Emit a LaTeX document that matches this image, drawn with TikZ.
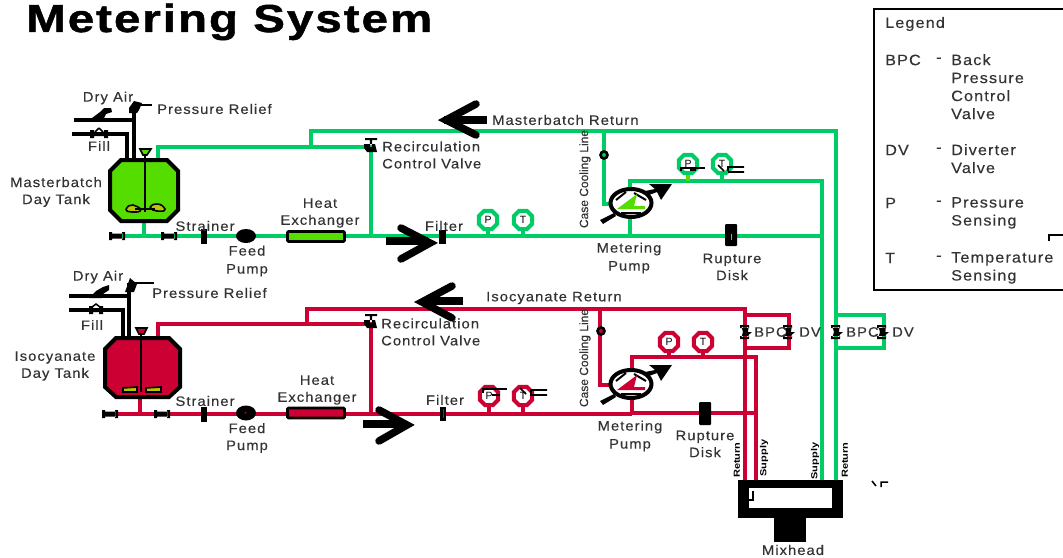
\documentclass[tikz,border=0pt]{standalone}
\usepackage{fontspec}
\usetikzlibrary{shapes.geometric}
\setmainfont{Liberation Sans}
\newfontfamily\labf[LetterSpace=7.5,FakeStretch=1.08,FakeBold=0.25]{Liberation Sans}
\newfontfamily\titf[LetterSpace=5,FakeStretch=1.22,FakeBold=1.2]{Liberation Sans Bold}
\newfontfamily\tinf[FakeBold=0.2]{Liberation Sans}
\definecolor{gpipe}{HTML}{00CC66}
\definecolor{rpipe}{HTML}{CC0033}
\definecolor{gfill}{HTML}{55DD00}
\definecolor{ytxt}{HTML}{333333}
\definecolor{imp}{HTML}{B8C800}
\tikzset{
  x=1pt,y=-1pt,
  lbl/.style={font=\labf\fontsize{13.7}{15}\selectfont,text=ytxt,inner sep=0pt,align=center},
  lbll/.style={lbl,anchor=west,align=left},
  lgt/.style={lbll,font=\labf\fontsize{15}{15}\selectfont},
  tiny/.style={font=\tinf\fontsize{12}{13}\selectfont,text=ytxt,inner sep=0pt,rotate=90},
  vtiny/.style={font=\fontsize{11}{12}\selectfont\bfseries,text=black,inner sep=0pt,rotate=90,xscale=1,yscale=.8},
  gp/.style={draw=gpipe,line width=3.4pt,line join=miter},
  rp/.style={draw=rpipe,line width=3.4pt,line join=miter},
  kp/.style={draw=black,line width=3.6pt},
  gauge/.style={regular polygon,regular polygon sides=8,fill=white,line width=4pt,minimum size=20pt,inner sep=0pt,font=\fontsize{10.5}{11}\selectfont,text=black},
  bigarrow/.style={draw=black,line width=7.5pt,line cap=round,line join=miter},
  blk/.style={fill=black,draw=none,inner sep=0pt},
  tankk/.style={draw=black,line width=4pt,line join=miter},
  hx/.style={draw=black,line width=2.6pt,rounded corners=1pt,minimum width=57pt,minimum height=10pt,inner sep=0pt},
  pt/.style={coordinate},
}
% bowtie valve, horizontal
\newcommand\hvalve[2]{\node[pt] (#1) at (#2) {};
  \fill[black,shift={(#2)}] (-8,-4) rectangle (-5,4) (8,-4) rectangle (5,4) (-6,-2.5) rectangle (6,2.5);}
% vertical bowtie
\newcommand\vvalve[2]{\node[pt] (#1) at (#2) {};
  \fill[black,shift={(#2)}] (-5,-7) rectangle (4,-4) (-5,4) rectangle (4,7) (-3.5,-5)--(3.5,-5)--(3,0)--(7,0)--(3.5,3)--(3.5,5)--(-3.5,5)--(-2,0)--cycle;}
% recirculation valve
\newcommand\rvalve[2]{\node[pt] (#1) at (#2) {};
  \fill[black,shift={(#2)}] (-6,-9) rectangle (6,-7) (-1.2,-8) rectangle (1.2,0) (-7,-3)--(4,-3)--(6,5)--(-4,5)--(-7,1)--cycle;}
% metering pump
\newcommand\mpump[3]{\node[draw=black,fill=white,ellipse,line width=4pt,minimum width=41pt,minimum height=28pt,inner sep=0pt] (#1) at (#2) {};
  \begin{scope}[shift={(#2)}]
    \draw[white,line width=2pt] (-23,-8)--(-13,-18) (23,8)--(13,18);
    \draw[black,line width=2pt] (-15,-3)--(-5,-11) (-10,10) -- (10,10) (3,-10)--(15,-3);
    \fill[#3] (-14,6)--(6,-9)--(3,3)--(14,3)--(14,6)--cycle;
    \fill[black] (-31,17)--(-28,21)--(-15,13)--(-17,10)--cycle;
    \fill[black] (14,-12) -- (18,-8) -- (26,-11) -- (30,-3) -- (41,-19) -- (18,-19) -- (24,-14) -- cycle;
  \end{scope}}
\begin{document}
\begin{tikzpicture}
\useasboundingbox (0,0) rectangle (1063,557);
\fill[white] (0,0) rectangle (1063,557);

% Title
\node[anchor=west,inner sep=0pt,font=\titf\fontsize{39}{40}\selectfont,text=black] (title) at (26,22) {Metering System};

% Legend
\draw[black,line width=2.4pt] (1075,9) -- (874,9) -- (874,290) -- (1075,290);
\node[lgt] (lg0) at (885,24) {Legend};
\node[lgt] (lg1) at (885,60) {BPC};
\node[lgt] (lg1d) at (936,60) {-};
\node[lgt,anchor=north west] (lg1t) at (951,54) {Back\\[3pt]Pressure\\[3pt]Control\\[3pt]Valve};
\node[lgt] (lg2) at (885,150) {DV};
\node[lgt] (lg2d) at (936,150) {-};
\node[lgt,anchor=north west] (lg2t) at (951,144) {Diverter\\[3pt]Valve};
\node[lgt] (lg3) at (885,203) {P};
\node[lgt] (lg3d) at (936,203) {-};
\node[lgt,anchor=north west] (lg3t) at (951,197) {Pressure\\[3pt]Sensing};
\node[lgt] (lg4) at (885,258) {T};
\node[lgt] (lg4d) at (936,258) {-};
\node[lgt,anchor=north west] (lg4t) at (951,252) {Temperature\\[3pt]Sensing};
\draw[black,line width=1.8pt] (1049,241) -- (1049,235) -- (1063,235);

% ---------- MIXHEAD ----------
\node[draw=black,line width=0pt,fill=black,minimum width=104pt,minimum height=37pt,inner sep=0pt] (mix) at (790,498.5) {};
\fill[white] (749,488) rectangle (832,508);
\node[blk,minimum width=32pt,minimum height=25pt] (mixs) at (790,529) {};
\draw[black,line width=1.5pt] (749,500) -- (753,500) -- (753,491);
\node[lbl] (mixl) at (793,550) {Mixhead};
\draw[black,line width=1.5pt] (872,481) -- (876,486) (881,487) -- (881,482) -- (888,482);

% ---------- GREEN PIPING ----------
\foreach \n/\x/\y in {ga/144/222,gb/144/236,gc/117/236,gd/822/236,ge/371/236,gf/371/147,gg/158/147,gh/158/160,gi/311/147,gj/311/131,gk/836/131,gl/836/480,gm/822/480,gn/822/181,go/630/181,gp1/630/190,gq/630/236,gr/630/218,gs/604/131,gt/604/204,gu/612/204,gv/688/181,gw/722/181,gx/488/236,gy/523/236,gz/836/315,gaa/884/315,gab/884/348,gac/836/348}
  {\coordinate (\n) at (\x,\y);}
\draw[gp] (gc) -- (gd);
\draw[gp] (ga) -- (gb);
\draw[gp] (ge) -- (gf) -- (gg) -- (gh);
\draw[gp] (gi) -- (gj) -- (gk) -- (gl);
\draw[gp] (gm) -- (gn) -- (go) -- (gp1);
\draw[gp] (gq) -- (gr);
\draw[gp] (gs) -- (gt) -- (gu);
\draw[gp] (gz) -- (gaa) -- (gab) -- (gac);

% ---------- RED PIPING ----------
\foreach \n/\x/\y in {ra/140/398,rb/140/414,rc/110/414,rd/632/414,re/371/414,rf/371/324,rg/158/324,rh/158/336,ri/307/324,rj/307/309,rk/745/309,rl/745/480,rm/756/480,rn/756/357,ro/632/357,rp1/632/372,rq/632/396,rr/632/413,rs/755/413,rt/600/309,ru/600/385,rv/612/385,rw/669/357,rx/703/357,ry/489/414,rz/523/414,raa/745/315,rab/789/315,rac/789/348,rad/745/348}
  {\coordinate (\n) at (\x,\y);}
\draw[rp] (rc) -- (rd);
\draw[rp] (ra) -- (rb);
\draw[rp] (re) -- (rf) -- (rg) -- (rh);
\draw[rp] (ri) -- (rj) -- (rk) -- (rl);
\draw[rp] (rm) -- (rn) -- (ro) -- (rp1);
\draw[rp] (rq) -- (rr) -- (rs);
\draw[rp] (rt) -- (ru) -- (rv);
\draw[rp] (raa) -- (rab) -- (rac) -- (rad);

% ---------- MASTERBATCH TANK ----------
\draw[tankk,fill=gfill] (121,160) -- (167,160) -- (178,171) -- (178,210) -- (167,221) -- (121,221) -- (110,210) -- (110,171) -- cycle;
\node[pt] (mtank) at (144,190) {};
\draw[black,line width=1.5pt] (145,155) -- (145,212);
\fill[imp,draw=black,line width=1.6pt] (126,209) to[out=80,in=180] (133,205) to[out=0,in=160] (141,209) to[out=-90,in=0] (132,212) to[out=180,in=-90] (126,209);
\fill[imp,draw=black,line width=1.6pt] (150,207) to[out=60,in=180] (157,204) to[out=0,in=120] (165,209) to[out=-90,in=0] (157,211) to[out=180,in=-60] (150,207);
\draw[black,line width=2pt] (135,209) -- (155,209);
\draw[black,line width=1.6pt,fill=gfill] (140,149) -- (151,149) -- (147,155) -- (143,155) -- cycle;

% black lines
\foreach \n/\x/\y in {ka/74/120,kb/134/120,kc/134/159,kd/134/105,ke/152/105,kf/72/134,kg/127/134,kh/127/159}
  {\coordinate (\n) at (\x,\y);}
\draw[kp,line width=3.6pt] (ka) -- (kb);
\draw[kp,line width=3.6pt] (kb) -- (kc);
\draw[kp,line width=2.2pt] (kd) -- (ke);
\draw[kp] (kb) -- (kd);
\draw[kp,line width=3.6pt] (kf) -- (kg) -- (kh);
\fill[black] (92,118)--(100,112)--(104,108)--(111,108)--(112,112)--(106,114)--(104,118)--cycle;
\fill[black] (129,113)--(129,108)--(134,101)--(142,103)--(139,110)--(137,113)--cycle;
\fill[black] (90,130) rectangle (94,138) (104,130) rectangle (108,138) (94,132) rectangle (104,136);
\draw[black,line width=1.5pt] (99,128) -- (95,132) (99,128) -- (103,132);

% ---------- ISOCYANATE TANK ----------
\draw[tankk,fill=rpipe] (116,338) -- (169,338) -- (180,349) -- (180,387) -- (169,397) -- (116,397) -- (105,387) -- (105,349) -- cycle;
\node[pt] (itank) at (142,368) {};
\draw[black,line width=2.8pt] (141,333) -- (141,392);
\fill[imp,draw=black,line width=1.6pt] (123,388) -- (137,387) -- (137,392) -- (123,392) -- cycle;
\fill[imp,draw=black,line width=1.6pt] (146,388) -- (161,387) -- (161,392) -- (146,392) -- cycle;
\draw[black,line width=1.6pt,fill=rpipe] (136,328) -- (147,328) -- (144,334) -- (139,334) -- cycle;

\foreach \n/\x/\y in {la/69/296,lb/129/296,lc/129/337,ld/129/283,le/154/283,lf/69/310,lg/123/310,lh/123/337}
  {\coordinate (\n) at (\x,\y);}
\draw[kp,line width=3.6pt] (la) -- (lb) -- (lc);
\draw[kp] (lb) -- (ld);
\draw[kp,line width=2.2pt] (ld) -- (le);
\draw[kp,line width=3.6pt] (lf) -- (lg) -- (lh);
\fill[black] (89,298)--(96,291)--(103,287)--(109,285)--(109,290)--(103,294)--(102,298)--cycle;
\fill[black] (125,292)--(130,278)--(137,284)--(134,292)--cycle;
\fill[black] (89,306) rectangle (93,314) (99,306) rectangle (103,314) (93,308) rectangle (99,312);
\draw[black,line width=1.5pt] (92,307) -- (96,304) -- (100,307);

% ---------- GREEN LINE COMPONENTS ----------
\hvalve{v1}{117,236}
\hvalve{v2}{169,236}
\node[blk,minimum width=6pt,minimum height=15pt] (str1) at (204,236) {};
\node[blk,ellipse,minimum width=20pt,minimum height=14pt] (fp1) at (246,236) {};
\node[hx,fill=gfill] (hx1) at (316,236.5) {};
\rvalve{rv1}{371,147}
\node[blk,minimum width=7pt,minimum height=14pt] (fil1) at (442,237) {};
\node[gauge,draw=gpipe] (p1) at (488,220) {P};
\node[gauge,draw=gpipe] (t1) at (523,220) {T};
\draw[gp] (p1) -- (gx);
\draw[gp] (t1) -- (gy);
\node[gauge,draw=gpipe] (p2) at (688,164) {P};
\node[gauge,draw=gpipe] (t2) at (722,164) {T};
\draw[draw=gfill,line width=3.4pt] (p2) -- (gv);
\draw[gp] (t2) -- (gw);
\draw[black,line width=1.6pt] (681,171) -- (681,168) -- (705,168) (690,170) -- (696,170);
\draw[black,line width=1.6pt] (718,165) -- (724,171) (728,171) -- (728,167) -- (744,167) (728,172) -- (744,172);
\node[draw=black,fill=gpipe,circle,line width=2.6pt,minimum size=7pt,inner sep=0pt] (cv1) at (604,155) {};
\mpump{mp1}{631,203}{gfill}
\node[blk,minimum width=12pt,minimum height=22pt,rounded corners=1pt] (rd1) at (731,235) {};
\fill[gfill] (730.5,234) rectangle (732,240);
\vvalve{bpc1}{836,332}
\vvalve{dv1}{882,332}

% ---------- RED LINE COMPONENTS ----------
\hvalve{v3}{110,414}
\hvalve{v4}{162,414}
\node[blk,minimum width=6pt,minimum height=15pt] (str2) at (204,414) {};
\node[blk,ellipse,minimum width=20pt,minimum height=15pt] (fp2) at (246,413) {};
\fill[rpipe] (245.5,412.5) circle (1pt);
\node[hx,fill=rpipe] (hx2) at (316,413) {};
\rvalve{rv2}{371,323}
\node[blk,minimum width=6pt,minimum height=14pt] (fil2) at (443,414) {};
\fill[rpipe] (442.5,409) rectangle (444,418);
\node[gauge,draw=rpipe] (p3) at (489,396) {P};
\node[gauge,draw=rpipe] (t3) at (523,396) {T};
\draw[rp] (p3) -- (ry);
\draw[rp] (t3) -- (rz);
\node[gauge,draw=rpipe] (p4) at (669,342) {P};
\node[gauge,draw=rpipe] (t4) at (703,342) {T};
\draw[rp] (p4) -- (rw);
\draw[rp] (t4) -- (rx);
\draw[black,line width=1.6pt] (483,393) -- (483,389) -- (507,389) (492,395) -- (500,395);
\draw[black,line width=1.6pt] (520,388) -- (526,394) (547,390) -- (531,390) -- (531,395) -- (547,395);
\node[draw=black,fill=rpipe,circle,line width=2.6pt,minimum size=7pt,inner sep=0pt] (cv2) at (601,331) {};
\mpump{mp2}{631,384}{rpipe}
\node[blk,minimum width=12pt,minimum height=23pt,rounded corners=1pt] (rd2) at (705,413.5) {};
\vvalve{bpc2}{745,332}
\vvalve{dv2}{788,332}

% ---------- ARROWS ----------
\coordinate (a1t) at (487,120); \coordinate (a1h) at (444,120);
\draw[bigarrow,line cap=butt] (a1t) -- (a1h);
\draw[bigarrow] (476,104) -- (446,120) -- (476,135);
\coordinate (a2t) at (386,241); \coordinate (a2h) at (428,241);
\draw[bigarrow,line cap=butt] (a2t) -- (a2h);
\draw[bigarrow] (401,228) -- (430,243) -- (401,259);
\coordinate (a3t) at (463,301); \coordinate (a3h) at (424,301);
\draw[bigarrow,line cap=butt] (a3t) -- (a3h);
\draw[bigarrow] (452,286) -- (422,302) -- (452,318);
\coordinate (a4t) at (363,424); \coordinate (a4h) at (405,424);
\draw[bigarrow,line cap=butt] (a4t) -- (a4h);
\draw[bigarrow] (379,410) -- (407,425) -- (379,441);

% ---------- LABELS ----------
\node[lbl] (t1a) at (108,98) {Dry Air};
\node[lbll] (t1b) at (157,109) {Pressure Relief};
\node[lbl] (t1c) at (99,146) {Fill};
\node[lbl] (t1d) at (56,192) {Masterbatch\\[2pt]Day Tank};
\node[lbl] (t1e) at (205,226) {Strainer};
\node[lbl] (t1f) at (247,261) {Feed\\[3pt]Pump};
\node[lbl] (t1g) at (320,213) {Heat\\[2pt]Exchanger};
\node[lbll] (t1h) at (382,155) {Recirculation\\[2pt]Control Valve};
\node[lbl] (t1i) at (444,226) {Filter};
\node[lbll] (t1j) at (492,120) {Masterbatch Return};
\node[tiny] (t1k) at (585,179) {Case Cooling Line};
\node[lbl] (t1l) at (629,258) {Metering\\[3pt]Pump};
\node[lbl] (t1m) at (732,267) {Rupture\\[2pt]Disk};
\node[lbll] (t1n) at (754,332) {BPC};
\node[lbll] (t1o) at (799,332) {DV};
\node[lbll] (t1p) at (846,332) {BPC};
\node[lbll] (t1q) at (892,332) {DV};

\node[lbl] (t2a) at (98,277) {Dry Air};
\node[lbll] (t2b) at (152,293) {Pressure Relief};
\node[lbl] (t2c) at (92,325) {Fill};
\node[lbl] (t2d) at (55,366) {Isocyanate\\[2pt]Day Tank};
\node[lbl] (t2e) at (205,401) {Strainer};
\node[lbl] (t2f) at (247,438) {Feed\\[2pt]Pump};
\node[lbl] (t2g) at (317,390) {Heat\\[2pt]Exchanger};
\node[lbll] (t2h) at (381,332) {Recirculation\\[2pt]Control Valve};
\node[lbl] (t2i) at (445,400) {Filter};
\node[lbll] (t2j) at (486,298) {Isocyanate Return};
\node[tiny] (t2k) at (585,358) {Case Cooling Line};
\node[lbl] (t2l) at (630,436) {Metering\\[3pt]Pump};
\node[lbl] (t2m) at (705,444) {Rupture\\[2pt]Disk};

\node[vtiny] (s1) at (737,460) {Return};
\node[vtiny] (s2) at (764,458) {Supply};
\node[vtiny] (s3) at (815,461) {Supply};
\node[vtiny] (s4) at (845,460) {Return};
\end{tikzpicture}
\end{document}
